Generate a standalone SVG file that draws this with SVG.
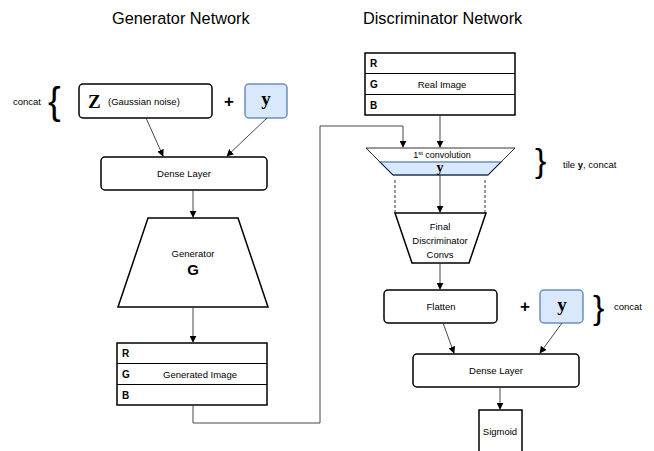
<svg xmlns="http://www.w3.org/2000/svg" width="654" height="451" viewBox="0 0 654 451">
<defs>
<marker id="ah" viewBox="0 0 10 10" refX="9" refY="5" markerWidth="7" markerHeight="7" markerUnits="userSpaceOnUse" orient="auto">
<path d="M0,0 L10,5 L0,10 z" fill="#000"/>
</marker>
<style>
.t{font-family:"Liberation Sans",Arial,sans-serif;fill:#000}
.title{font-size:16.3px}
.lbl{font-size:9.5px;text-anchor:middle}
.rgb{font-size:10px;font-weight:bold}
.box{fill:#fff;stroke:#000;stroke-width:1.5}
.blue{fill:#dae8fc;stroke:#6c8ebf;stroke-width:1.5}
.math{font-family:"Liberation Serif","Times New Roman",serif;font-weight:bold;fill:#000}
.br{font-family:"Liberation Sans",Arial,sans-serif;font-weight:normal;fill:#000}
.c{fill:none;stroke:#333;stroke-width:0.9}
.d{fill:none;stroke:#000;stroke-width:0.8;stroke-dasharray:3 2}
</style>
</defs>
<rect width="654" height="451" fill="#fff"/>
<text class="t title" x="112" y="24">Generator Network</text>
<text class="t title" x="363" y="24">Discriminator Network</text>

<g id="concat-gen">
<text class="t" x="13" y="105" font-size="9.5">concat</text>
<text class="br" x="48" y="114" font-size="38">{</text>
</g>
<g id="z-node">
<rect class="box" x="79" y="84" width="133" height="34" rx="4"/>
<text class="math" x="88" y="108" font-size="19">Z</text>
<text class="t" x="108" y="105" font-size="9.5">(Gaussian noise)</text>
</g>
<text class="t" x="229" y="107" font-size="17" font-weight="bold" text-anchor="middle">+</text>
<g id="y-gen">
<rect class="blue" x="245" y="84" width="42" height="34" rx="4"/>
<text class="math" x="266" y="105" font-size="19" text-anchor="middle">y</text>
</g>
<g id="dense-gen">
<rect class="box" x="101" y="157" width="166" height="33" rx="4"/>
<text class="t lbl" x="184" y="177">Dense Layer</text>
</g>
<g id="generator">
<polygon class="box" points="148,218 238,218 268,307 118,307"/>
<text class="t lbl" x="193" y="257" font-size="11">Generator</text>
<text class="t" x="193" y="275" font-size="15" font-weight="bold" text-anchor="middle">G</text>
</g>
<g id="generated-image">
<rect class="box" x="117" y="343" width="150" height="62"/>
<line x1="117" y1="363.5" x2="267" y2="363.5" stroke="#000" stroke-width="1"/>
<line x1="117" y1="384.5" x2="267" y2="384.5" stroke="#000" stroke-width="1"/>
<text class="t rgb" x="122" y="357">R</text>
<text class="t rgb" x="122" y="378">G</text>
<text class="t rgb" x="122" y="399">B</text>
<text class="t lbl" x="200" y="378">Generated Image</text>
</g>

<g id="real-image">
<rect class="box" x="365" y="53" width="150" height="62"/>
<line x1="365" y1="73.5" x2="515" y2="73.5" stroke="#000" stroke-width="1"/>
<line x1="365" y1="94.5" x2="515" y2="94.5" stroke="#000" stroke-width="1"/>
<text class="t rgb" x="370" y="67">R</text>
<text class="t rgb" x="370" y="88">G</text>
<text class="t rgb" x="370" y="109">B</text>
<text class="t lbl" x="442" y="88">Real Image</text>
</g>
<g id="first-conv">
<polygon points="366,148 515,148 487,175 393,175" fill="#fff" stroke="none"/>
<polygon class="blue" points="380,162 501,162 488,175 393,175" stroke-width="1"/>
<polygon points="366,148 515,148 488,175 393,175" fill="none" stroke="#000" stroke-width="0.8"/>
<text class="t" x="442" y="157.5" font-size="9" text-anchor="middle"><tspan>1</tspan><tspan font-size="6" dy="-3">st</tspan><tspan dy="3"> convolution</tspan></text>
<text class="math" x="440" y="172" font-size="14" text-anchor="middle">y</text>
</g>
<g id="tile-concat">
<text class="br" x="535" y="172" font-size="34">}</text>
<text class="t" x="563" y="168" font-size="9.5">tile <tspan font-weight="bold">y</tspan>, concat</text>
</g>
<g id="final-convs">
<polygon class="box" points="395,213 486,213 469,263 412,263"/>
<text class="t lbl" x="440" y="230">Final</text>
<text class="t lbl" x="440" y="244">Discriminator</text>
<text class="t lbl" x="440" y="258">Convs</text>
</g>
<g id="flatten">
<rect class="box" x="384" y="290" width="113" height="33" rx="4"/>
<text class="t lbl" x="441" y="310">Flatten</text>
</g>
<text class="t" x="525" y="312" font-size="17" font-weight="bold" text-anchor="middle">+</text>
<g id="y-disc">
<rect class="blue" x="540" y="290" width="43" height="33" rx="4"/>
<text class="math" x="562" y="311" font-size="19" text-anchor="middle">y</text>
</g>
<g id="concat-disc">
<text class="br" x="593" y="319" font-size="34">}</text>
<text class="t" x="614" y="310" font-size="9.5">concat</text>
</g>
<g id="dense-disc">
<rect class="box" x="413" y="354" width="166" height="33" rx="4"/>
<text class="t lbl" x="496" y="374">Dense Layer</text>
</g>
<g id="sigmoid">
<rect class="box" x="479" y="410" width="43" height="50"/>
<text class="t lbl" x="500" y="435">Sigmoid</text>
</g>

<g id="connectors">
<line class="c" x1="146" y1="118" x2="163" y2="156" marker-end="url(#ah)"/>
<line class="c" x1="267" y1="118" x2="227" y2="156" marker-end="url(#ah)"/>
<line class="c" x1="193" y1="190" x2="193" y2="217" marker-end="url(#ah)"/>
<line class="c" x1="193" y1="307" x2="193" y2="342" marker-end="url(#ah)"/>
<polyline class="c" points="193,405 193,423 320,423 320,126 403,126 403,147" marker-end="url(#ah)"/>
<line class="c" x1="440" y1="115" x2="440" y2="147" marker-end="url(#ah)"/>
<line class="c" x1="440" y1="175" x2="440" y2="212" marker-end="url(#ah)"/>
<line class="d" x1="395" y1="180" x2="395" y2="213"/>
<line class="d" x1="485" y1="180" x2="485" y2="213"/>
<line class="c" x1="440" y1="263" x2="440" y2="289" marker-end="url(#ah)"/>
<line class="c" x1="443" y1="323" x2="454" y2="353" marker-end="url(#ah)"/>
<line class="c" x1="562" y1="323" x2="540" y2="353" marker-end="url(#ah)"/>
<line class="c" x1="500" y1="387" x2="500" y2="409" marker-end="url(#ah)"/>
</g>
</svg>
